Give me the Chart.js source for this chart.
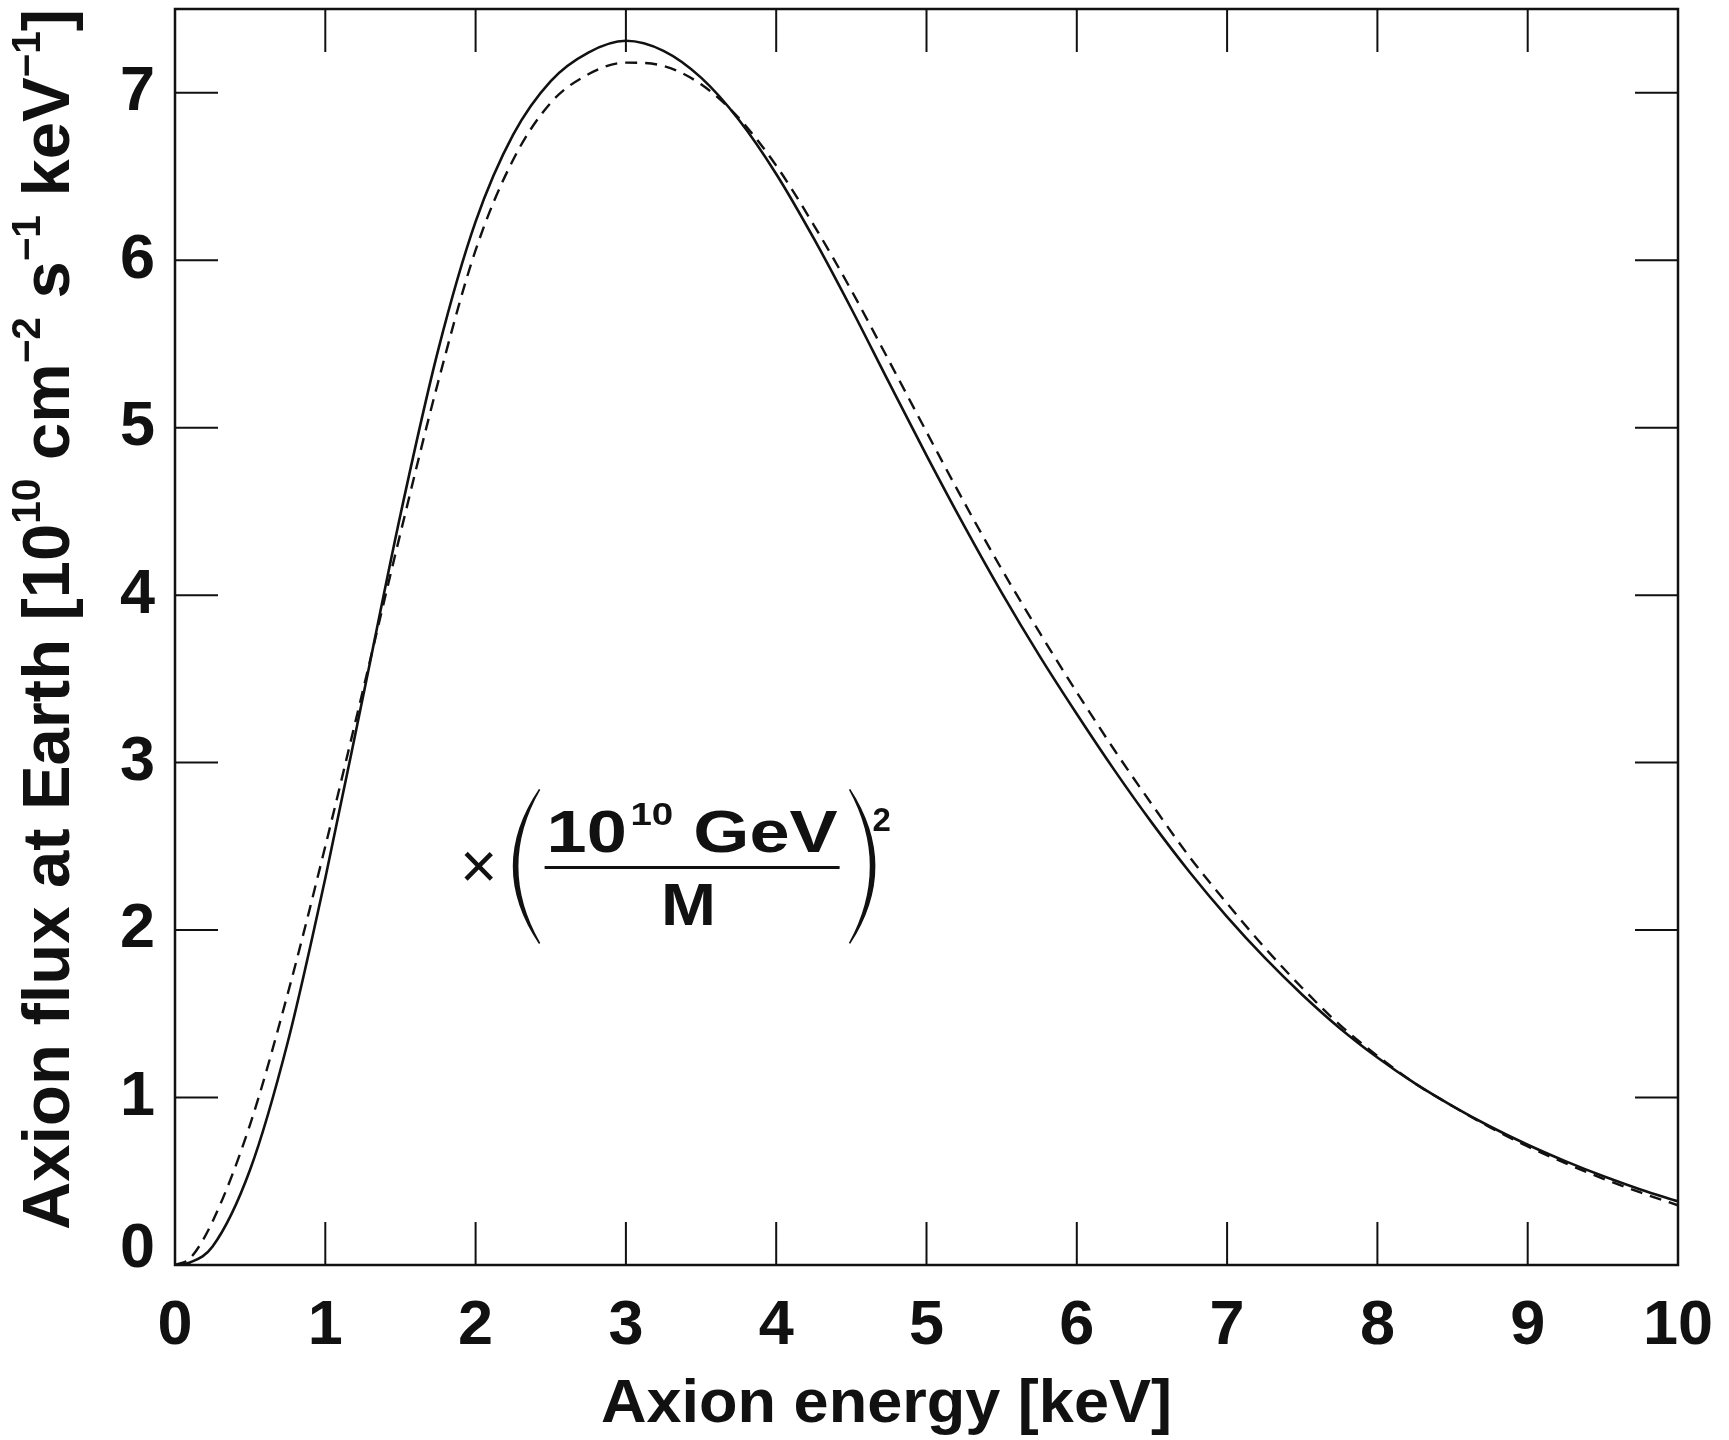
<!DOCTYPE html>
<html>
<head>
<meta charset="utf-8">
<script src="https://cdn.jsdelivr.net/npm/chart.js@4.4.0/dist/chart.umd.min.js"></script>
<style>
  html, body { margin: 0; padding: 0; background: #fff; }
  #wrap { width: 1729px; height: 1440px; }
</style>
</head>
<body>
<div id="wrap"><canvas id="flux" width="1729" height="1440"></canvas></div>
<script>
// values
const energy = [0, 0.1, 0.25, 0.5, 0.75, 1, 1.25, 1.5, 1.75, 2, 2.25, 2.5, 2.75, 3, 3.25, 3.5, 3.75,
                4, 4.25, 4.5, 4.75, 5, 5.25, 5.5, 5.75, 6, 6.25, 6.5, 6.75, 7, 7.25, 7.5, 7.75,
                8, 8.25, 8.5, 8.75, 9, 9.25, 9.5, 9.75, 10];
const fluxSolid = [0, 0.015, 0.11, 0.57, 1.33, 2.31, 3.39, 4.48, 5.46, 6.23, 6.75, 7.07, 7.24, 7.31, 7.25, 7.09, 6.84,
                   6.515, 6.13, 5.71, 5.27, 4.835, 4.415, 4.015, 3.64, 3.29, 2.955, 2.64, 2.347, 2.079, 1.835, 1.614, 1.414,
                   1.239, 1.084, 0.949, 0.827, 0.718, 0.62, 0.531, 0.451, 0.38];
const fluxDashed = [0, 0.04, 0.26, 0.84, 1.62, 2.50, 3.43, 4.37, 5.27, 6.06, 6.60, 6.94, 7.11, 7.18, 7.16, 7.05, 6.85,
                    6.565, 6.21, 5.82, 5.40, 4.975, 4.555, 4.155, 3.78, 3.42, 3.075, 2.75, 2.437, 2.159, 1.895, 1.654, 1.434,
                    1.249, 1.084, 0.949, 0.822, 0.708, 0.608, 0.516, 0.433, 0.356];
const xLabels = [0, 1, 2, 3, 4, 5, 6, 7, 8, 9, 10];
const yLabels = [1, 2, 3, 4, 5, 6, 7];

const ink = '#111';
const family = '"Liberation Sans", Arial, Helvetica, sans-serif';

function points(ys) {
    return energy.map((e, i) => ({ x: e, y: ys[i] }));
}

// frame + inward ticks on all four sides (long at integers, short at halves)
const frameTicks = {
    id: 'frameTicks',
    afterDatasetsDraw(chart) {
        const { ctx, chartArea: a, scales: { x, y } } = chart;
        ctx.save();
        ctx.strokeStyle = ink;
        ctx.lineWidth = 2.5;
        ctx.strokeRect(a.left, a.top, a.right - a.left, a.bottom - a.top);
        ctx.lineWidth = 2;
        ctx.beginPath();
        x.ticks.forEach(t => {
            const px = x.getPixelForValue(t.value);
            const len = Number.isInteger(t.value) ? 43 : 21;
            ctx.moveTo(px, a.bottom); ctx.lineTo(px, a.bottom - len);
            ctx.moveTo(px, a.top); ctx.lineTo(px, a.top + len);
        });
        y.ticks.forEach(t => {
            const py = y.getPixelForValue(t.value);
            const len = Number.isInteger(t.value) ? 43 : 21;
            ctx.moveTo(a.left, py); ctx.lineTo(a.left + len, py);
            ctx.moveTo(a.right, py); ctx.lineTo(a.right - len, py);
        });
        ctx.stroke();
        ctx.restore();
    }
};

// draws a run of [text, isSuperscript] pieces, squeezed/stretched to "fit" px if given
function drawRun(ctx, parts, base, sup, raise, startX, baseY, fit) {
    let total = 0;
    parts.forEach(p => {
        ctx.font = 'bold ' + (p[1] ? sup : base) + 'px ' + family;
        total += ctx.measureText(p[0]).width + (p[2] || 0);
    });
    const k = fit ? fit / total : 1;
    ctx.save();
    ctx.translate(startX, baseY);
    ctx.scale(k, 1);
    let cx = 0;
    parts.forEach(p => {
        ctx.font = 'bold ' + (p[1] ? sup : base) + 'px ' + family;
        ctx.fillText(p[0], cx, p[1] ? -raise : 0);
        cx += ctx.measureText(p[0]).width + (p[2] || 0);
    });
    ctx.restore();
}

// tall parenthesis, thicker in the middle; dir = 1 opens right "(", -1 opens left ")"
function paren(ctx, x0, yTop, yBot, bulge, dir) {
    const ym = (yTop + yBot) / 2;
    ctx.beginPath();
    ctx.moveTo(x0, yTop);
    ctx.quadraticCurveTo(x0 - dir * (bulge * 2 + 4), ym, x0, yBot);
    ctx.quadraticCurveTo(x0 - dir * (bulge * 2 - 4), ym, x0, yTop);
    ctx.fill();
    ctx.lineWidth = 1.6;
    ctx.stroke();
}

const texts = {
    id: 'texts',
    afterDraw(chart) {
        const { ctx, scales: { x, y } } = chart;
        ctx.save();
        ctx.fillStyle = ink;
        ctx.strokeStyle = ink;
        ctx.textAlign = 'left';
        ctx.textBaseline = 'alphabetic';

        // x axis title
        drawRun(ctx, [['Axion energy [keV]', false]], 62, 40, 0, 601, 1422, 571);

        // y axis title, rotated
        ctx.save();
        ctx.translate(69, 1230);
        ctx.rotate(-Math.PI / 2);
        drawRun(ctx, [['Axion flux at Earth [10', false], ['10', true], [' cm', false], ['\u22122', true],
                      [' s', false], ['\u22121', true], [' keV', false], ['\u22121', true], [']', false]],
                66, 40, 29, 0, 0, 1221);
        ctx.restore();

        // the "0" of the y axis sits a little higher than its tick
        ctx.font = 'bold 63px ' + family;
        ctx.textAlign = 'right';
        ctx.textBaseline = 'middle';
        ctx.fillText('0', x.left - 20, y.getPixelForValue(0) - 15);

        // factor  x (10^10 GeV / M)^2, anchored in data space
        const ax = x.getPixelForValue(2.02);
        const ay = y.getPixelForValue(2.38);
        ctx.textAlign = 'center';
        ctx.font = '64px ' + family;
        ctx.fillText('\u00d7', ax, ay + 4);

        ctx.textAlign = 'left';
        ctx.textBaseline = 'alphabetic';
        drawRun(ctx, [['10', false, 3], ['10', true], [' GeV', false]], 60, 32, 27, ax + 68, ay - 14, 291);

        ctx.lineWidth = 3;
        ctx.beginPath();
        ctx.moveTo(ax + 66, ay + 1);
        ctx.lineTo(ax + 361, ay + 1);
        ctx.stroke();

        ctx.save();
        ctx.translate(ax + 210, ay + 59);
        ctx.scale(1.1, 1);
        ctx.font = 'bold 60px ' + family;
        ctx.textAlign = 'center';
        ctx.fillText('M', 0, 0);
        ctx.restore();

        // big parentheses
        paren(ctx, ax + 61, ay - 77, ay + 77, 24, 1);
        paren(ctx, ax + 371, ay - 77, ay + 77, 23, -1);

        ctx.font = 'bold 33px ' + family;
        ctx.fillText('2', ax + 394, ay - 35);
        ctx.restore();
    }
};

new Chart(document.getElementById('flux'), {
    type: 'line',
    data: {
        datasets: [
            {
                label: 'solid',
                data: points(fluxSolid),
                borderColor: ink,
                borderWidth: 2.6,
                pointRadius: 0,
                cubicInterpolationMode: 'monotone',
                fill: false
            },
            {
                label: 'dashed',
                data: points(fluxDashed),
                borderColor: ink,
                borderWidth: 2.4,
                borderDash: [12, 8],
                pointRadius: 0,
                cubicInterpolationMode: 'monotone',
                fill: false
            }
        ]
    },
    options: {
        responsive: false,
        animation: false,
        devicePixelRatio: 1,
        layout: { padding: { top: 9, right: 51, left: 0, bottom: 0 } },
        plugins: { legend: { display: false }, tooltip: { enabled: false } },
        scales: {
            x: {
                type: 'linear',
                min: 0,
                max: 10,
                grid: { display: false, drawTicks: false },
                border: { display: false },
                ticks: {
                    stepSize: 0.5,
                    autoSkip: false,
                    maxRotation: 0,
                    padding: 24,
                    color: ink,
                    font: { family: family, size: 63, weight: 'bold' },
                    callback: v => xLabels.includes(v) ? String(v) : null
                },
                // keep the plot box where the figure has it
                afterFit: s => { s.height = 175; s.paddingLeft = 0; s.paddingRight = 0; }
            },
            y: {
                type: 'linear',
                min: 0,
                max: 7.5,
                grid: { display: false, drawTicks: false },
                border: { display: false },
                ticks: {
                    stepSize: 0.5,
                    autoSkip: false,
                    padding: 20,
                    color: ink,
                    font: { family: family, size: 63, weight: 'bold' },
                    callback: v => yLabels.includes(v) ? String(v) : null
                },
                afterFit: s => { s.width = 175; s.paddingTop = 0; s.paddingBottom = 0; }
            }
        }
    },
    plugins: [frameTicks, texts]
});
</script>
</body>
</html>
